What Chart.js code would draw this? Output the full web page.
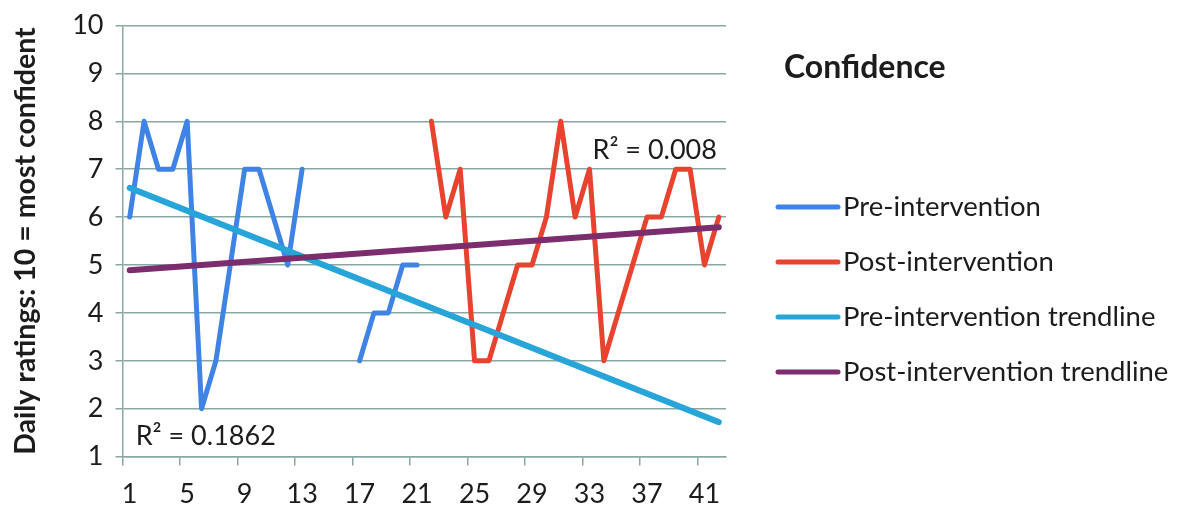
<!DOCTYPE html>
<html>
<head>
<meta charset="utf-8">
<script src="https://cdn.jsdelivr.net/npm/chart.js@4.4.1/dist/chart.umd.min.js"></script>
<style>
  html, body { margin: 0; padding: 0; background: #fff; }
</style>
</head>
<body>
<canvas id="Graph" width="1178" height="528"></canvas>
<script>
// day numbers along the x axis
const days = ["1","2","3","4","5","6","7","8","9","10","11","12","13","14",
    "15","16","17","18","19","20","21","22","23","24","25","26","27","28",
    "29","30","31","32","33","34","35","36","37","38","39","40","41","42"];

// daily confidence ratings (null = no rating that day)
const preIntervention = [6,8,7,7,8,2,3,5,7,7,6,5,7,null,null,null,3,4,4,5,5,
    null,null,null,null,null,null,null,null,null,null,null,null,null,null,null,null,null,null,null,null,null];
const postIntervention = [null,null,null,null,null,null,null,null,null,null,null,null,null,null,null,null,null,null,null,null,null,
    8,6,7,3,3,4,5,5,6,8,6,7,3,4,5,6,6,7,7,5,6];

// linear trendlines, only the two ends are needed
const preTrend = [6.61,null,null,null,null,null,null,null,null,null,null,null,null,null,null,null,null,null,null,null,null,
    null,null,null,null,null,null,null,null,null,null,null,null,null,null,null,null,null,null,null,null,1.72];
const postTrend = [4.89,null,null,null,null,null,null,null,null,null,null,null,null,null,null,null,null,null,null,null,null,
    null,null,null,null,null,null,null,null,null,null,null,null,null,null,null,null,null,null,null,null,5.79];

const seriesNames = ["Pre-intervention","Post-intervention","Pre-intervention trendline","Post-intervention trendline"];
const preR2 = "R\u00B2 = 0.1862";
const postR2 = "R\u00B2 = 0.008";

const blue = "#3f84e5";
const red = "#e8432f";
const cyan = "#27a5d8";
const purple = "#7b2d6e";
const gridColor = "#8aa7a4";
const textColor = "#1c1c1c";
const fontFamily = "Lato, 'Open Sans', sans-serif";

// legend + R² labels drawn beside the plot
const sideLegend = {
    id: "sideLegend",
    afterDraw(chart) {
        const ctx = chart.ctx;
        const x = chart.scales.x;
        const y = chart.scales.y;
        ctx.save();
        ctx.fillStyle = textColor;
        ctx.textBaseline = "middle";
        ctx.textAlign = "left";

        ctx.font = "bold 32px " + fontFamily;
        ctx.fillText("Confidence", 784, 68);

        ctx.font = "27.5px " + fontFamily;
        chart.data.datasets.forEach((ds, i) => {
            const ly = 207 + i * 55;
            ctx.strokeStyle = ds.borderColor;
            ctx.lineWidth = 5;
            ctx.lineCap = "round";
            ctx.beginPath();
            ctx.moveTo(778, ly);
            ctx.lineTo(838, ly);
            ctx.stroke();
            ctx.fillText(ds.label, 843, ly);
        });

        ctx.font = "27px " + fontFamily;
        ctx.fillText(preR2, x.getPixelForValue(0) + 6, y.getPixelForValue(1.42));
        ctx.fillText(postR2, x.getPixelForValue(32) + 3, y.getPixelForValue(7.4));
        ctx.restore();
    }
};

function lineSet(label, values, color, width, spanGaps, order) {
    return {
        label: label,
        data: values,
        borderColor: color,
        backgroundColor: color,
        borderWidth: width,
        borderJoinStyle: "round",
        borderCapStyle: "round",
        pointRadius: 0,
        tension: 0,
        spanGaps: spanGaps,
        order: order
    };
}

new Chart("Graph", {
    type: "line",
    data: {
        labels: days,
        datasets: [
            lineSet(seriesNames[0], preIntervention, blue, 5, false, 2),
            lineSet(seriesNames[1], postIntervention, red, 5, false, 2),
            lineSet(seriesNames[2], preTrend, cyan, 6, true, 1),
            lineSet(seriesNames[3], postTrend, purple, 6, true, 0)
        ]
    },
    options: {
        responsive: false,
        animation: false,
        devicePixelRatio: 1,
        layout: { padding: { top: 23, right: 452, bottom: 6, left: 0 } },
        plugins: {
            legend: { display: false },
            tooltip: { enabled: false }
        },
        scales: {
            x: {
                offset: true,
                grid: {
                    offset: true,
                    drawOnChartArea: false,
                    tickLength: 9,
                    lineWidth: 1.5,
                    color: c => c.index % 4 === 0 ? gridColor : "rgba(0,0,0,0)"
                },
                border: { color: gridColor, width: 1.5 },
                ticks: {
                    autoSkip: false,
                    maxRotation: 0,
                    padding: 12,
                    color: textColor,
                    font: { family: fontFamily, size: 27 },
                    callback: function (val, i) {
                        return i % 4 === 0 ? this.getLabelForValue(val) : "";
                    }
                }
            },
            y: {
                min: 1,
                max: 10,
                grid: { color: gridColor, lineWidth: 1.5, tickLength: 7 },
                border: { color: gridColor, width: 1.5 },
                ticks: {
                    stepSize: 1,
                    padding: 12,
                    color: textColor,
                    font: { family: fontFamily, size: 27, lineHeight: 1 }
                },
                title: {
                    display: true,
                    text: "Daily ratings: 10 = most confident",
                    color: textColor,
                    font: { family: fontFamily, size: 28.5, weight: "bold" },
                    padding: { top: 9, bottom: 17 }
                }
            }
        }
    },
    plugins: [sideLegend]
});
</script>
</body>
</html>
